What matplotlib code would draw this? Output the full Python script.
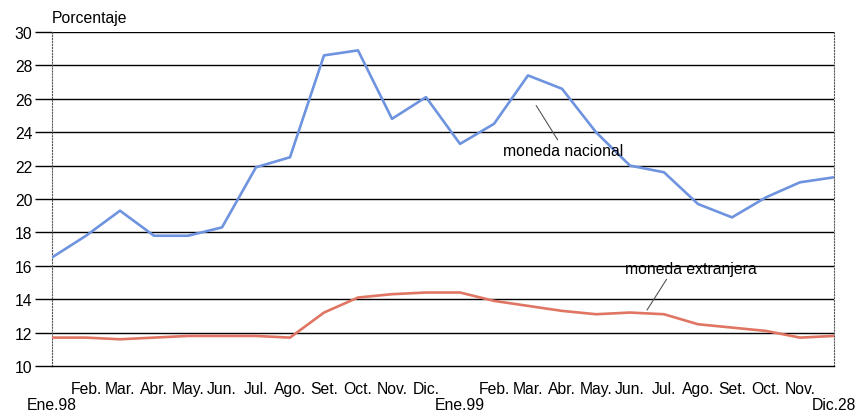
import numpy as np
import matplotlib.pyplot as plt
import matplotlib.transforms as mtransforms

plt.rcParams['font.family'] = ['Liberation Sans', 'DejaVu Sans']

meses = ["Ene.98", "Feb.", "Mar.", "Abr.", "May.", "Jun.", "Jul.", "Ago.", "Set.", "Oct.", "Nov.", "Dic.",
         "Ene.99", "Feb.", "Mar.", "Abr.", "May.", "Jun.", "Jul.", "Ago.", "Set.", "Oct.", "Nov.", "Dic.28"]
nacional = [16.5, 17.8, 19.3, 17.8, 17.8, 18.3, 21.9, 22.5, 28.6, 28.9, 24.8, 26.1,
            23.3, 24.5, 27.4, 26.6, 24.0, 22.0, 21.6, 19.7, 18.9, 20.1, 21.0, 21.3]
extranjera = [11.7, 11.7, 11.6, 11.7, 11.8, 11.8, 11.8, 11.7, 13.2, 14.1, 14.3, 14.4,
              14.4, 13.9, 13.6, 13.3, 13.1, 13.2, 13.1, 12.5, 12.3, 12.1, 11.7, 11.8]
fila_baja = ["Ene.98", "Ene.99", "Dic.28"]

x = np.arange(len(meses))
fs = 11.3

fig = plt.figure(figsize=(8.58, 4.14), dpi=100)
ax = fig.add_axes([52 / 858, 47 / 414, 782 / 858, 334 / 414])

ax.set_ylim(10, 30)
ax.set_xlim(0, len(meses) - 1)
ax.set_yticks(np.arange(10, 31, 2))
for y in np.arange(12, 31, 2):
    ax.axhline(y, color="black", lw=1.0, zorder=1)

ax.plot(x, nacional, color="#6E93DF", lw=1.9, zorder=3)
ax.plot(x, extranjera, color="#E07563", lw=1.9, zorder=3)

for s in ["left", "right"]:
    ax.spines[s].set_linestyle(":")
    ax.spines[s].set_color("#555555")
    ax.spines[s].set_linewidth(0.8)
ax.spines["top"].set_visible(False)
ax.spines["bottom"].set_color("black")
ax.spines["bottom"].set_linewidth(1.0)

ax.tick_params(axis="y", length=12, width=1.0, color="black", labelsize=fs, pad=2)
ax.set_xticks(x)
ax.set_xticklabels([m if m not in fila_baja else "" for m in meses], fontsize=fs)
ax.tick_params(axis="x", length=0, pad=11)

trans = mtransforms.blended_transform_factory(ax.transData, ax.transAxes)
for i, m in enumerate(meses):
    if m in fila_baja:
        ax.text(i, -0.093, m, transform=trans, ha="center", va="top", fontsize=fs)

fig.text(52 / 858, 396 / 414, "Porcentaje", ha="left", va="center", fontsize=fs)

ax.annotate("moneda nacional", xy=(14.24, 25.6), xytext=(13.26, 22.93),
            fontsize=fs, ha="left", va="center",
            arrowprops=dict(arrowstyle="-", color="#555555", lw=0.8, shrinkA=0, shrinkB=0,
                            relpos=(0.47, 1.0)))
ax.annotate("moneda extranjera", xy=(17.5, 13.35), xytext=(16.85, 15.81),
            fontsize=fs, ha="left", va="center",
            arrowprops=dict(arrowstyle="-", color="#555555", lw=0.8, shrinkA=0, shrinkB=0,
                            relpos=(0.33, 0.0)))

fig.savefig("out.png", dpi=100)
